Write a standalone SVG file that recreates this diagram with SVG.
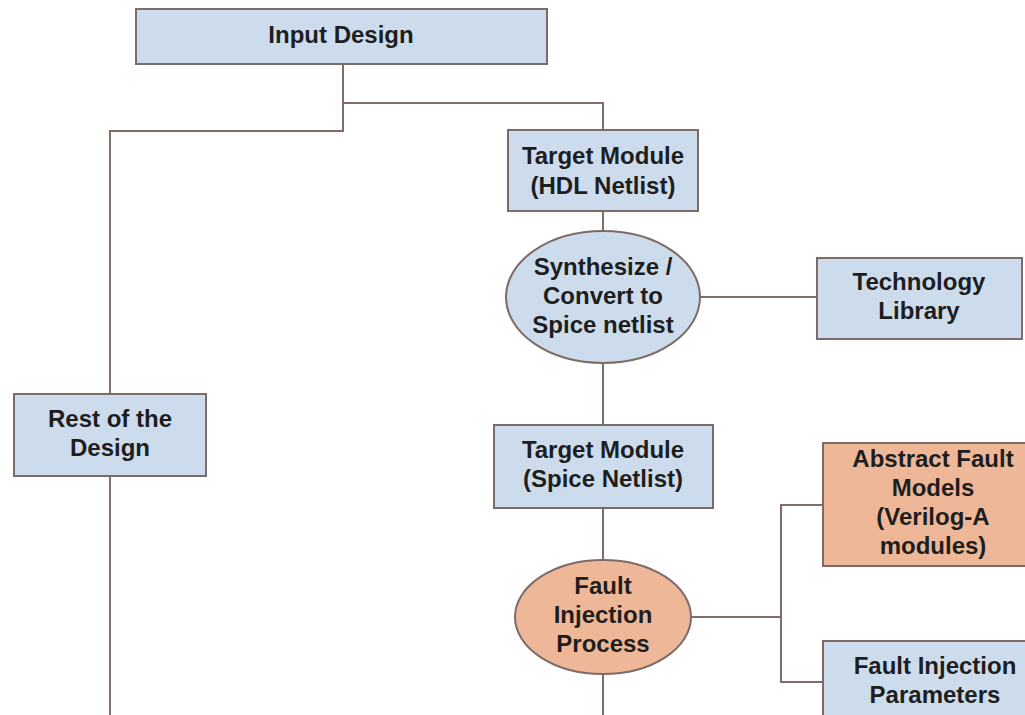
<svg xmlns="http://www.w3.org/2000/svg" width="1025" height="715" viewBox="0 0 1025 715">
  <style>
    .blue { fill: #cddcec; stroke: #7d6b68; stroke-width: 2; }
    .orange { fill: #eeb898; stroke: #7d6b68; stroke-width: 2; }
    .lbl { font-family: "Liberation Sans", Arial, sans-serif; font-weight: bold; font-size: 24px; fill: #1e1e1e; text-anchor: middle; }
    .wire { fill: none; stroke: #806c68; stroke-width: 2; }
  </style>
  <rect width="1025" height="715" fill="#ffffff"/>

  <!-- connectors -->
  <g id="connectors">
    <polyline class="wire" points="343,64 343,103 603,103 603,130"/>
    <polyline class="wire" points="343,103 343,131 110,131 110,394"/>
    <line class="wire" x1="110" y1="476" x2="110" y2="715"/>
    <line class="wire" x1="603" y1="211" x2="603" y2="231"/>
    <line class="wire" x1="700" y1="297" x2="817" y2="297"/>
    <line class="wire" x1="603" y1="363" x2="603" y2="425"/>
    <line class="wire" x1="603" y1="508" x2="603" y2="560"/>
    <line class="wire" x1="603" y1="674" x2="603" y2="715"/>
    <line class="wire" x1="691" y1="617" x2="781" y2="617"/>
    <polyline class="wire" points="823,505 781,505 781,682 823,682"/>
  </g>

  <g id="input-design">
    <rect class="blue" x="136" y="9" width="411" height="55"/>
    <text class="lbl" x="341" y="43">Input Design</text>
  </g>

  <g id="target-hdl">
    <rect class="blue" x="508" y="130" width="190" height="81"/>
    <text class="lbl" x="603" y="164">Target Module</text>
    <text class="lbl" x="603" y="194">(HDL Netlist)</text>
  </g>

  <g id="synthesize">
    <ellipse class="blue" cx="603" cy="297" rx="97" ry="66"/>
    <text class="lbl" x="603" y="275">Synthesize /</text>
    <text class="lbl" x="603" y="304">Convert to</text>
    <text class="lbl" x="603" y="333">Spice netlist</text>
  </g>

  <g id="technology-library">
    <rect class="blue" x="817" y="258" width="205" height="81"/>
    <text class="lbl" x="919" y="290">Technology</text>
    <text class="lbl" x="919" y="319">Library</text>
  </g>

  <g id="rest-of-design">
    <rect class="blue" x="14" y="394" width="192" height="82"/>
    <text class="lbl" x="110" y="427">Rest of the</text>
    <text class="lbl" x="110" y="456">Design</text>
  </g>

  <g id="target-spice">
    <rect class="blue" x="494" y="425" width="219" height="83"/>
    <text class="lbl" x="603" y="458">Target Module</text>
    <text class="lbl" x="603" y="487">(Spice Netlist)</text>
  </g>

  <g id="fault-injection-process">
    <ellipse class="orange" cx="603" cy="617" rx="88" ry="57"/>
    <text class="lbl" x="603" y="594">Fault</text>
    <text class="lbl" x="603" y="623">Injection</text>
    <text class="lbl" x="603" y="652">Process</text>
  </g>

  <g id="abstract-fault-models">
    <rect class="orange" x="823" y="443" width="222" height="123"/>
    <text class="lbl" x="933" y="467">Abstract Fault</text>
    <text class="lbl" x="933" y="496">Models</text>
    <text class="lbl" x="933" y="525">(Verilog-A</text>
    <text class="lbl" x="933" y="554">modules)</text>
  </g>

  <g id="fault-injection-parameters">
    <rect class="blue" x="823" y="641" width="222" height="90"/>
    <text class="lbl" x="935" y="674">Fault Injection</text>
    <text class="lbl" x="935" y="703">Parameters</text>
  </g>
</svg>
